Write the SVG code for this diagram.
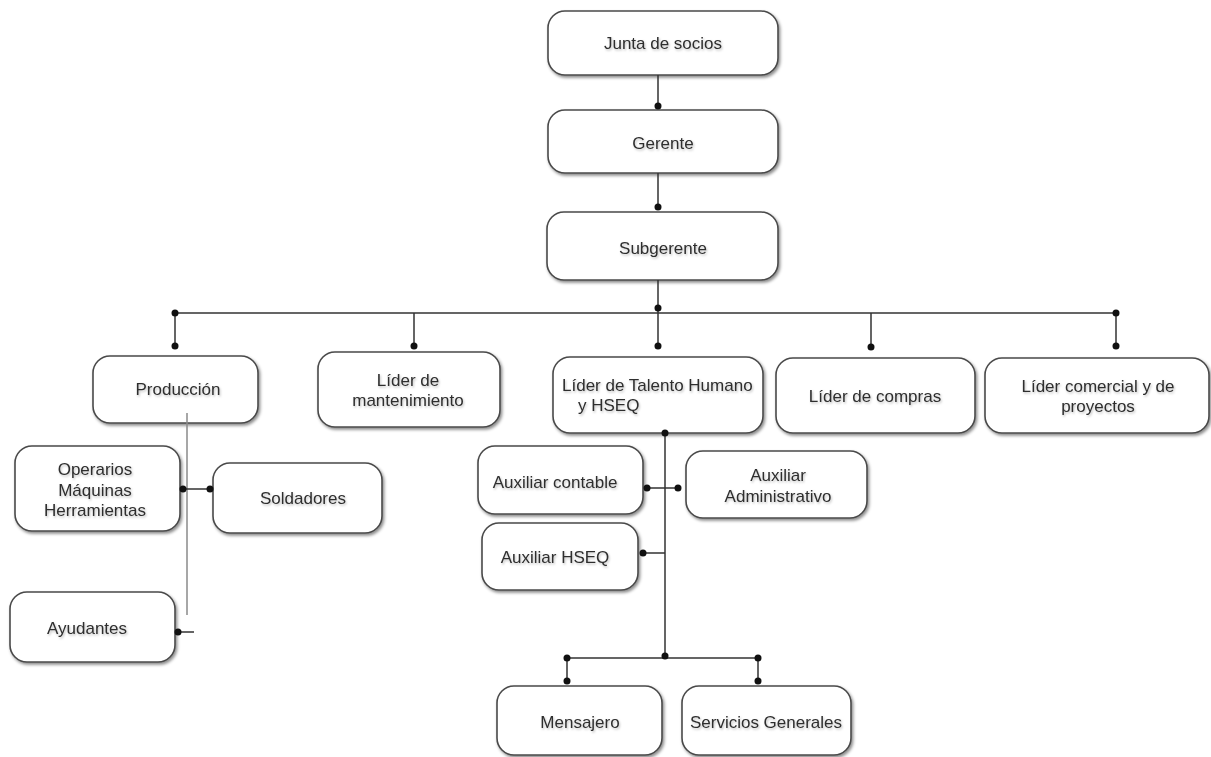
<svg xmlns="http://www.w3.org/2000/svg" width="1211" height="757" viewBox="0 0 1211 757">
<defs>
<filter id="sh" x="-10%" y="-10%" width="125%" height="130%">
<feDropShadow dx="1.5" dy="2" stdDeviation="1.5" flood-color="#000" flood-opacity="0.45"/>
</filter>
<filter id="tsh" x="-5%" y="-20%" width="110%" height="150%">
<feDropShadow dx="1" dy="1.5" stdDeviation="1" flood-color="#000" flood-opacity="0.25"/>
</filter>
<style>
.box{fill:#fff;stroke:#4a4a4a;stroke-width:1.6;filter:url(#sh)}
.t{font-family:"Liberation Sans",Arial,sans-serif;font-size:17px;fill:#2e2e2e;text-anchor:middle;filter:url(#tsh)}
.l{text-anchor:start}
.ln{stroke:#333;stroke-width:1.5;fill:none}
.gl{stroke:#8a8a8a;stroke-width:1.5;fill:none}
.d{fill:#111}
</style>
</defs>
<rect width="1211" height="757" fill="#fff"/>
<g id="junta"><rect class="box" x="548" y="11" width="230" height="64" rx="17"/><text class="t" x="663" y="49">Junta de socios</text></g>
<g id="gerente"><rect class="box" x="548" y="110" width="230" height="63" rx="17"/><text class="t" x="663" y="149">Gerente</text></g>
<g id="subgerente"><rect class="box" x="547" y="212" width="231" height="68" rx="17"/><text class="t" x="663" y="254">Subgerente</text></g>
<g id="produccion"><rect class="box" x="93" y="356" width="165" height="67" rx="17"/><text class="t" x="178" y="395">Producción</text></g>
<g id="mantenimiento"><rect class="box" x="318" y="352" width="182" height="75" rx="17"/><text class="t" x="408" y="386">Líder de</text><text class="t" x="408" y="406">mantenimiento</text></g>
<g id="talento"><rect class="box" x="553" y="357" width="210" height="76" rx="17"/><text class="t l" x="562" y="391">Líder de Talento Humano</text><text class="t l" x="578" y="411">y HSEQ</text></g>
<g id="compras"><rect class="box" x="776" y="358" width="199" height="75" rx="17"/><text class="t" x="875" y="402">Líder de compras</text></g>
<g id="comercial"><rect class="box" x="985" y="358" width="224" height="75" rx="17"/><text class="t" x="1098" y="392">Líder comercial y de</text><text class="t" x="1098" y="412">proyectos</text></g>
<g id="operarios"><rect class="box" x="15" y="446" width="165" height="85" rx="17"/><text class="t" x="95" y="475">Operarios</text><text class="t" x="95" y="496">Máquinas</text><text class="t" x="95" y="516">Herramientas</text></g>
<g id="soldadores"><rect class="box" x="213" y="463" width="169" height="70" rx="17"/><text class="t" x="303" y="504">Soldadores</text></g>
<g id="ayudantes"><rect class="box" x="10" y="592" width="165" height="70" rx="17"/><text class="t" x="87" y="634">Ayudantes</text></g>
<g id="auxcontable"><rect class="box" x="478" y="446" width="165" height="68" rx="17"/><text class="t" x="555" y="488">Auxiliar contable</text></g>
<g id="auxadmin"><rect class="box" x="686" y="451" width="181" height="67" rx="17"/><text class="t" x="778" y="481">Auxiliar</text><text class="t" x="778" y="502">Administrativo</text></g>
<g id="auxhseq"><rect class="box" x="482" y="523" width="156" height="67" rx="17"/><text class="t" x="555" y="563">Auxiliar HSEQ</text></g>
<g id="mensajero"><rect class="box" x="497" y="686" width="165" height="69" rx="17"/><text class="t" x="580" y="728">Mensajero</text></g>
<g id="servicios"><rect class="box" x="682" y="686" width="169" height="69" rx="17"/><text class="t" x="766" y="728">Servicios Generales</text></g>
<g id="connectors">
<path class="ln" d="M658,75V106M658,173V207M658,280V313M175,313H1116M175,313V346M414,313V346M658,313V346M871,313V347M1116,313V346"/>
<path class="gl" d="M187,413V615"/>
<path class="ln" d="M183,489H210M178,632H194"/>
<path class="ln" d="M665,433V658M647,488H678M643,553H665M567,658H758M567,658V681M758,658V681"/>
<g>
<circle class="d" cx="658" cy="106" r="3.5"/>
<circle class="d" cx="658" cy="207" r="3.5"/>
<circle class="d" cx="658" cy="308" r="3.5"/>
<circle class="d" cx="175" cy="313" r="3.5"/>
<circle class="d" cx="1116" cy="313" r="3.5"/>
<circle class="d" cx="175" cy="346" r="3.5"/>
<circle class="d" cx="414" cy="346" r="3.5"/>
<circle class="d" cx="658" cy="346" r="3.5"/>
<circle class="d" cx="871" cy="347" r="3.5"/>
<circle class="d" cx="1116" cy="346" r="3.5"/>
<circle class="d" cx="183" cy="489" r="3.5"/>
<circle class="d" cx="210" cy="489" r="3.5"/>
<circle class="d" cx="178" cy="632" r="3.5"/>
<circle class="d" cx="665" cy="433" r="3.5"/>
<circle class="d" cx="647" cy="488" r="3.5"/>
<circle class="d" cx="678" cy="488" r="3.5"/>
<circle class="d" cx="643" cy="553" r="3.5"/>
<circle class="d" cx="665" cy="656" r="3.5"/>
<circle class="d" cx="567" cy="658" r="3.5"/>
<circle class="d" cx="758" cy="658" r="3.5"/>
<circle class="d" cx="567" cy="681" r="3.5"/>
<circle class="d" cx="758" cy="681" r="3.5"/>
</g>
</g>
</svg>
